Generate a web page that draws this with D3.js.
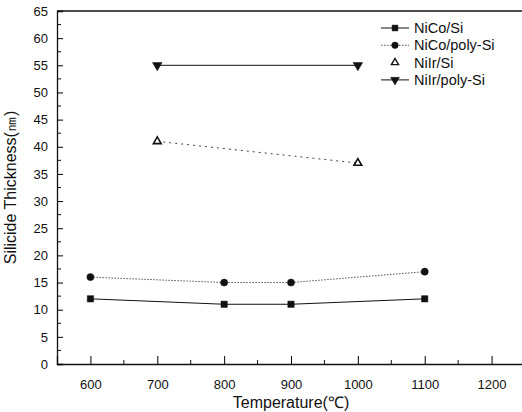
<!DOCTYPE html>
<html>
<head>
<meta charset="utf-8">
<script src="https://cdn.jsdelivr.net/npm/d3@7"></script>
<style>
body { margin: 0; background: #fff; }
text { font-family: "Liberation Sans", Arial, sans-serif; fill: #111; }
</style>
</head>
<body>
<script>
// data
var seriesNames = ["NiCo/Si", "NiCo/poly-Si", "NiIr/Si", "NiIr/poly-Si"];
var legendLabels = ["NiCo/Si", "NiCo/poly-Si", "NiIr/Si", "NiIr/poly-Si"];
var nicoSiTemp = [600, 800, 900, 1100];
var nicoSiVal = [12, 11, 11, 12];
var nicoPolyTemp = [600, 800, 900, 1100];
var nicoPolyVal = [16, 15, 15, 17];
var niirSiTemp = [700, 1000];
var niirSiVal = [41, 37];
var niirPolyTemp = [700, 1000];
var niirPolyVal = [55, 55];
var xTicks = [600, 700, 800, 900, 1000, 1100, 1200];
var yTicks = d3.range(0, 66, 5);

var width = 522, height = 412;
var margin = { top: 11, bottom: 48, left: 57, right: -3 };

var svg = d3.select("body").append("svg")
    .attr("width", width)
    .attr("height", height);

var xScale = d3.scaleLinear().domain([550, 1250]).range([margin.left, width - margin.right]);
var yScale = d3.scaleLinear().domain([0, 65]).range([height - margin.bottom, margin.top]);

var series = [
    { name: seriesNames[0], x: nicoSiTemp, y: nicoSiVal, dash: null, color: "#111", sym: d3.symbolSquare, fill: "#111", rot: 0, size: 40 },
    { name: seriesNames[1], x: nicoPolyTemp, y: nicoPolyVal, dash: "1.5,1.5", color: "#555", sym: d3.symbolCircle, fill: "#111", rot: 0, size: 40 },
    { name: seriesNames[2], x: niirSiTemp, y: niirSiVal, dash: "2,4", color: "#444", sym: d3.symbolTriangle, fill: "#fff", rot: 0, size: 26 },
    { name: seriesNames[3], x: niirPolyTemp, y: niirPolyVal, dash: null, color: "#111", sym: d3.symbolTriangle, fill: "#111", rot: 180, size: 40 }
];

var plotBottom = height - margin.bottom;

// axes: ticks point inward
var xAxis = svg.append("g").attr("transform", "translate(0," + plotBottom + ")");
xAxis.call(d3.axisBottom(xScale).tickValues(xTicks).tickSize(-8).tickPadding(16).tickFormat(d3.format("d")));
xAxis.selectAll("text").attr("font-size", 13);
xAxis.select(".domain").attr("stroke", "#111").attr("stroke-width", 1.3);
xAxis.append("g").selectAll("line")
    .data(d3.range(650, 1250, 100))
    .enter().append("line")
    .attr("x1", function (d) { return xScale(d); })
    .attr("x2", function (d) { return xScale(d); })
    .attr("y1", 0).attr("y2", -4)
    .attr("stroke", "#111");

var yAxis = svg.append("g").attr("transform", "translate(" + margin.left + ",0)");
yAxis.call(d3.axisLeft(yScale).tickValues(yTicks).tickSize(-6).tickPadding(9).tickFormat(d3.format("d")));
yAxis.selectAll("text").attr("font-size", 13);
yAxis.select(".domain").attr("stroke", "#111").attr("stroke-width", 1.3);
yAxis.append("g").selectAll("line")
    .data(d3.range(2.5, 65, 5))
    .enter().append("line")
    .attr("y1", function (d) { return yScale(d); })
    .attr("y2", function (d) { return yScale(d); })
    .attr("x1", 0).attr("x2", 4)
    .attr("stroke", "#111");

// top frame line
svg.append("line")
    .attr("x1", margin.left).attr("x2", width)
    .attr("y1", yScale(65)).attr("y2", yScale(65))
    .attr("stroke", "#111").attr("stroke-width", 1.3);

// axis titles
svg.append("text")
    .attr("x", xScale(900)).attr("y", 408)
    .attr("text-anchor", "middle")
    .attr("font-size", 16)
    .text("Temperature(\u2103)");

svg.append("text")
    .attr("transform", "translate(16," + yScale(32.5) + ") rotate(-90)")
    .attr("text-anchor", "middle")
    .attr("font-size", 16)
    .text("Silicide Thickness(\u339a)");

// series
var line = d3.line()
    .x(function (d) { return xScale(d[0]); })
    .y(function (d) { return yScale(d[1]); });

series.forEach(function (s) {
    var pts = s.x.map(function (t, i) { return [t, s.y[i]]; });
    svg.append("path")
        .datum(pts)
        .attr("d", line)
        .attr("fill", "none")
        .attr("stroke", s.color)
        .attr("stroke-width", 1)
        .attr("stroke-dasharray", s.dash);
    svg.append("g").selectAll("path")
        .data(pts)
        .enter().append("path")
        .attr("d", d3.symbol().type(s.sym).size(s.size))
        .attr("transform", function (d) {
            return "translate(" + xScale(d[0]) + "," + yScale(d[1]) + ") rotate(" + s.rot + ")";
        })
        .attr("fill", s.fill)
        .attr("stroke", "#111")
        .attr("stroke-width", s.fill === "#fff" ? 1.6 : 0.5);
});

// legend
var legend = svg.append("g").attr("transform", "translate(381,28)");
series.forEach(function (s, i) {
    var row = legend.append("g").attr("transform", "translate(0," + i * 17.3 + ")");
    if (i !== 2) {
        row.append("line")
            .attr("x1", 0).attr("x2", 28)
            .attr("stroke", s.color)
            .attr("stroke-dasharray", s.dash);
    }
    row.append("path")
        .attr("d", d3.symbol().type(s.sym).size(s.size * 0.85))
        .attr("transform", "translate(14,0) rotate(" + s.rot + ")")
        .attr("fill", s.fill)
        .attr("stroke", "#111")
        .attr("stroke-width", s.fill === "#fff" ? 1.4 : 0.5);
    row.append("text")
        .attr("x", 33).attr("y", 0)
        .attr("dy", "0.35em")
        .attr("font-size", 14.5)
        .text(legendLabels[i]);
});
</script>
</body>
</html>
